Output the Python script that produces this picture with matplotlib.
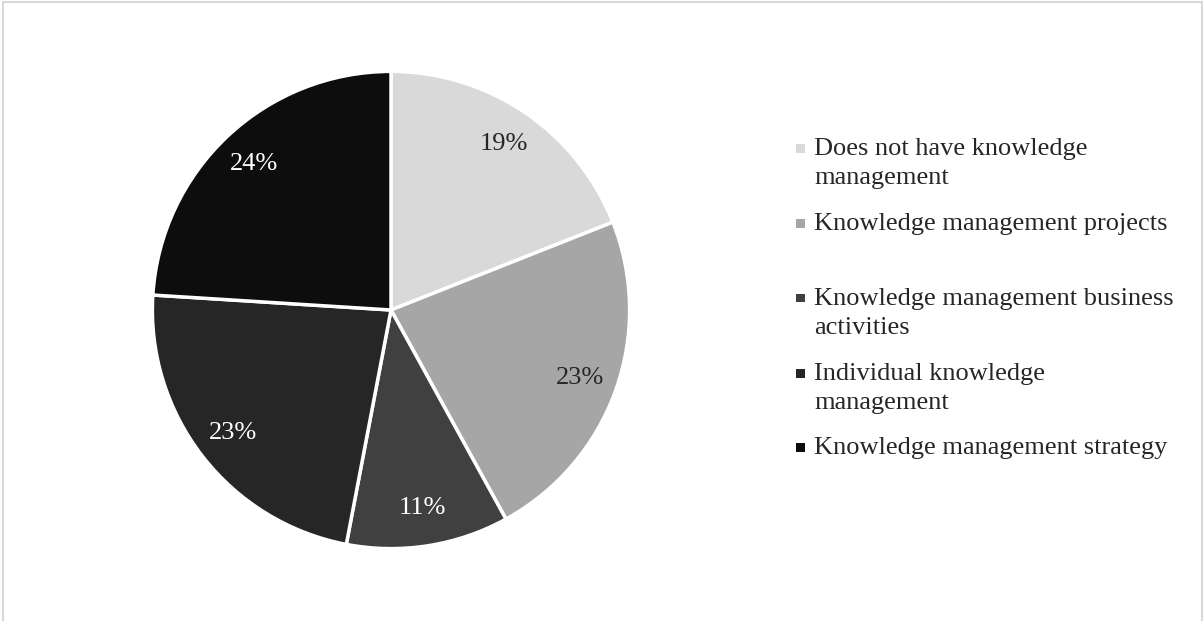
import matplotlib
matplotlib.use("Agg")
import matplotlib.pyplot as plt
from matplotlib.patches import Rectangle

labels = ["Does not have knowledge\nmanagement",
          "Knowledge management projects",
          "Knowledge management business\nactivities",
          "Individual knowledge\nmanagement",
          "Knowledge management strategy"]
values = [19, 23, 11, 23, 24]
colors = ["#D9D9D9", "#A6A6A6", "#404040", "#262626", "#0D0D0D"]
text_colors = ["#262626", "#262626", "white", "white", "white"]

plt.rcParams['font.family'] = ['Liberation Serif', 'DejaVu Serif']

W, H = 1203, 621
fig = plt.figure(figsize=(W / 100, H / 100), dpi=100)

# light grey frame round the chart area (bottom runs off the picture)
fig.patches.append(Rectangle((3 / W, -0.05), 1199 / W, (H - 2) / H + 0.05,
                             transform=fig.transFigure, fill=False,
                             edgecolor="#D9D9D9", linewidth=1.5))

cx, cy, r = 391, 310, 241
ax = fig.add_axes([(cx - r) / W, (H - cy - r) / H, 2 * r / W, 2 * r / H])
wedges, texts, autotexts = ax.pie(values, colors=colors, startangle=90, counterclock=False,
                                  autopct='%1.0f%%', pctdistance=0.84,
                                  wedgeprops=dict(edgecolor="white", linewidth=2.5),
                                  textprops=dict(fontsize=19))
for t, c in zip(autotexts, text_colors):
    t.set_color(c)
ax.set_xlim(-1.01, 1.01)
ax.set_ylim(-1.01, 1.01)
ax.set_aspect('equal')
ax.axis('off')

# legend drawn by hand: square markers, wrapped labels
legend_y = [148, 223, 298, 373, 447]   # marker centres in pixels from the top
line_h = 29
for lab, col, y in zip(labels, colors, legend_y):
    fig.patches.append(Rectangle((796 / W, 1 - (y + 4.5) / H), 9 / W, 9 / H,
                                 transform=fig.transFigure, facecolor=col, edgecolor='none'))
    for i, line in enumerate(lab.split("\n")):
        fig.text(814 / W, 1 - (y + 7 + i * line_h) / H, line, fontsize=19,
                 color="#262626", va='baseline', ha='left')

fig.savefig("out.png", dpi=100)
